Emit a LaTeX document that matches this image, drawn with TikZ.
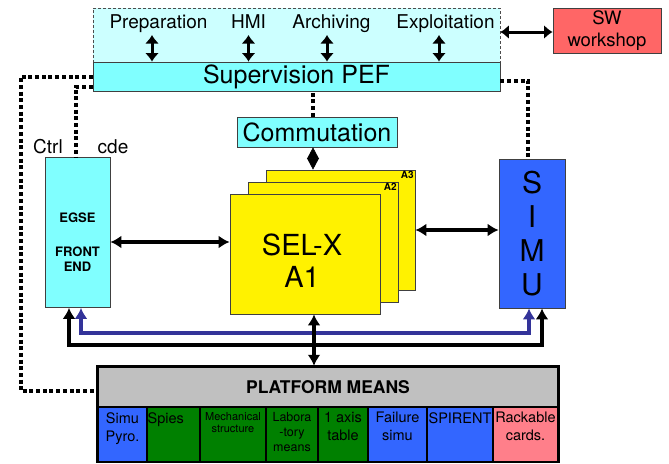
\documentclass[tikz,border=0pt]{standalone}
\usepackage{fontspec}
\setmainfont{TeX Gyre Heros}
\usetikzlibrary{arrows.meta}
\definecolor{cyanLight}{HTML}{CCFFFF}
\definecolor{cyanBox}{HTML}{80FFFF}
\definecolor{swRed}{HTML}{FF6666}
\definecolor{simuBlue}{HTML}{3366FF}
\definecolor{busBlue}{HTML}{333399}
\definecolor{cellGreen}{HTML}{008000}
\definecolor{cellPink}{HTML}{FF7F8A}
\definecolor{platGray}{HTML}{C0C0C0}
\newcommand{\linkWidth}[0]{4.2pt}
\newcommand{\ctrlWidth}[0]{4pt}
\newcommand{\setFs}[2]{\fontsize{#1}{#2}\selectfont}

\begin{document}
\begin{tikzpicture}[x=1pt, y=-1pt]
  \tikzset{box/.style={draw=black!75, line width=0.8pt, inner sep=0pt},
    lbl/.style={inner sep=0pt, align=center},
    link/.style={line width=\linkWidth, {Latex[length=11pt,width=13pt]}-{Latex[length=11pt,width=13pt]}},
    toplink/.style={line width=3pt, {Latex[length=8.5pt,width=14pt]}-{Latex[length=8.5pt,width=14pt]}},
    comlink/.style={line width=0.5pt, {Triangle[length=11.5pt,width=12pt]}-{Triangle[length=11.5pt,width=12pt]}},
    ctrl/.style={line width=\ctrlWidth, dash pattern=on 4pt off 2.7pt},
    tag/.style={anchor=north east, inner sep=1.5pt, font=\bfseries\setFs{10}{12}},
    cell/.style={draw=black, line width=1.2pt, inner sep=0pt, minimum height=54pt, anchor=north},
    celltxt/.style={inner sep=0pt, align=center, anchor=north, font=\setFs{14.5}{18}}}
  \useasboundingbox (0,0) rectangle (669,463);

  \node[box, fill=cyanLight, draw=black!70, line width=0.6pt, densely dashed,
    minimum width=407pt, minimum height=54pt] (TOP) at (296.5,35) {};
  \node[box, fill=cyanBox, minimum width=407pt, minimum height=29pt,
    font=\setFs{25}{28}] (SUP) at (296.5,76.5) {Supervision PEF};
  \node[lbl, anchor=base, font=\setFs{19}{22}] (PREP) at (158.5,28) {Preparation};
  \node[lbl, anchor=base, font=\setFs{19}{22}] (HMI) at (248.5,28) {HMI};
  \node[lbl, anchor=base, font=\setFs{19}{22}] (ARCH) at (331.5,28) {Archiving};
  \node[lbl, anchor=base, font=\setFs{19}{22}] (EXPL) at (445.5,28) {Exploitation};
  \draw[toplink, shorten <=7pt] ([xshift=-6.5pt]PREP.base) -- ([xshift=-6.5pt]PREP.base |- SUP.north);
  \draw[toplink, shorten <=7pt] (HMI.base) -- (HMI.base |- SUP.north);
  \draw[toplink, shorten <=7pt] ([xshift=-4.5pt]ARCH.base) -- ([xshift=-4.5pt]ARCH.base |- SUP.north);
  \draw[toplink, shorten <=7pt] ([xshift=-6.5pt]EXPL.base) -- ([xshift=-6.5pt]EXPL.base |- SUP.north);

  \node[box, fill=swRed, minimum width=108pt, minimum height=45pt, align=center,
    font=\setFs{18.5}{22}] (SW) at (607,30.5) {SW\\workshop};
  \draw[toplink] ([yshift=3pt]TOP.east) -- ([yshift=3pt]TOP.east -| SW.west);

  \node[box, fill=cyanBox, minimum width=65pt, minimum height=150pt] (EGSE) at (77.5,232.5) {};
  \node[lbl, font=\bfseries\setFs{13}{15}] (EGSE-TXT) at ([yshift=-9.5pt]EGSE.center)
    {EGSE\\[19pt]FRONT\\END};
  \node[lbl, anchor=base, font=\setFs{19}{22}] (CTRL) at (48,153) {Ctrl};
  \node[lbl, anchor=base, font=\setFs{19}{22}] (CDE) at (113,153) {cde};

  \node[box, fill=cyanBox, minimum width=160pt, minimum height=30pt,
    font=\setFs{25}{28}] (COMM) at (317,132) {Commutation};

  \node[box, fill=yellow, minimum width=149pt, minimum height=120pt] (SEL-A3) at (340.5,230) {};
  \node[tag] (TAG-A3) at (SEL-A3.north east) {A3};
  \node[box, fill=yellow, minimum width=150pt, minimum height=120pt] (SEL-A2) at (323,242) {};
  \node[tag] (TAG-A2) at (SEL-A2.north east) {A2};
  \node[box, fill=yellow, minimum width=150pt, minimum height=120pt] (SEL-A1) at (305,254) {};
  \node[lbl, font=\setFs{29}{32}] (TXT-A1) at ([xshift=-3pt,yshift=-7pt]SEL-A1.center) {SEL-X\\A1};

  \node[box, fill=simuBlue, minimum width=66pt, minimum height=149pt, align=center,
    font=\setFs{30}{34}] (SIMU) at (532,233.5) {S\\I\\M\\U};

  \node[box, fill=platGray, draw=black, line width=2.5pt, minimum width=460pt, minimum height=40pt,
    font=\bfseries\setFs{17.5}{20}] (PLAT) at (328,387) {PLATFORM MEANS};
  \node[cell, fill=simuBlue, minimum width=49pt] (CELL-1) at (122.5,407) {};
  \node[cell, fill=cellGreen, minimum width=53pt] (CELL-2) at (173.5,407) {};
  \node[cell, fill=cellGreen, minimum width=66pt] (CELL-3) at (233,407) {};
  \node[cell, fill=cellGreen, minimum width=52pt] (CELL-4) at (292,407) {};
  \node[cell, fill=cellGreen, minimum width=50pt] (CELL-5) at (343,407) {};
  \node[cell, fill=simuBlue, minimum width=59pt] (CELL-6) at (397.5,407) {};
  \node[cell, fill=simuBlue, minimum width=66pt] (CELL-7) at (460,407) {};
  \node[cell, fill=cellPink, minimum width=65pt] (CELL-8) at (525.5,407) {};
  \draw[line width=2.5pt] (PLAT.north west) rectangle (CELL-8.south east);
  \node[celltxt] (T-1) at ([yshift=-5pt]CELL-1.north) {Simu\\Pyro.};
  \node[celltxt, anchor=north west] (T-2) at ([xshift=1pt,yshift=-5pt]CELL-2.north west) {Spies};
  \node[celltxt, font=\setFs{11}{12}] (T-3) at ([yshift=-5pt]CELL-3.north) {Mechanical\\structure};
  \node[celltxt, font=\setFs{12.5}{15}] (T-4) at ([yshift=-5pt]CELL-4.north) {Labora\\-tory\\means};
  \node[celltxt] (T-5) at ([yshift=-5pt]CELL-5.north) {1 axis\\table};
  \node[celltxt] (T-6) at ([yshift=-5pt]CELL-6.north) {Failure\\simu};
  \node[celltxt] (T-7) at ([yshift=-5pt]CELL-7.north) {SPIRENT};
  \node[celltxt] (T-8) at ([yshift=-5pt]CELL-8.north) {Rackable\\cards.};

  \draw[ctrl] (SUP.west) -- ++(-72,0) |- ([yshift=-4pt]PLAT.west);
  \draw[ctrl] ([yshift=-10pt]SUP.west) -| ([xshift=-2pt]EGSE.north);
  \draw[ctrl] ([yshift=-4pt]SUP.east) -| ([xshift=-4pt]SIMU.north);
  \draw[ctrl] ([xshift=-4pt]COMM.north) -- ([xshift=-4pt]COMM.north |- SUP.south);
  \draw[comlink] ([xshift=-4pt]COMM.south) -- ([xshift=-4pt]COMM.south |- SEL-A3.north);

  \draw[link] ([yshift=-9.5pt]EGSE.east) -- ([yshift=-9.5pt]EGSE.east -| SEL-A1.west);
  \draw[link] (SEL-A3.east) -- (SEL-A3.east -| SIMU.west);

  \draw[link, busBlue] ([xshift=3.5pt]EGSE.south) -- ++(0,25) -| ([xshift=-3pt]SIMU.south);
  \draw[link] ([xshift=-8.5pt]EGSE.south) -- ++(0,37) -| ([xshift=10pt]SIMU.south);
  \draw[link] ([xshift=9pt]SEL-A1.south) -- ([xshift=9pt]SEL-A1.south |- PLAT.north);
\end{tikzpicture}
\end{document}
